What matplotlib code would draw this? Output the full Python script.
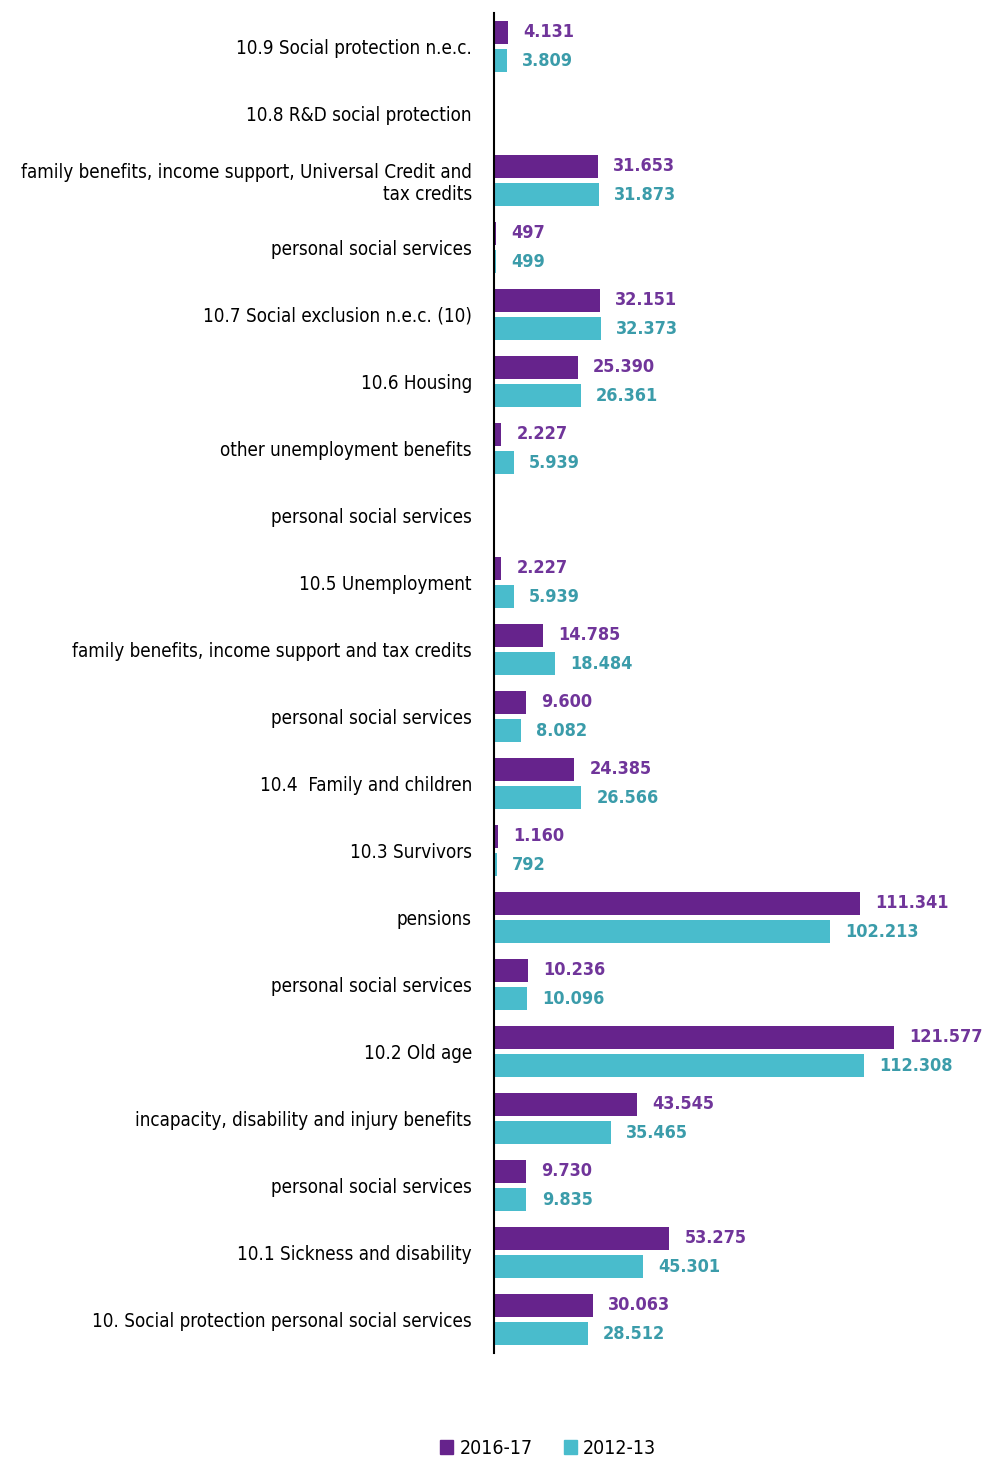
import matplotlib
matplotlib.use('Agg')
import matplotlib.pyplot as plt
import numpy as np
from matplotlib.patches import Patch

plt.rcParams['font.family'] = ['DejaVu Sans']
plt.rcParams['font.stretch'] = 'condensed'

# categories top to bottom, values in GBP million (None = no bar)
categories = [
    '10.9 Social protection n.e.c.',
    '10.8 R&D social protection',
    'family benefits, income support, Universal Credit and\ntax credits',
    'personal social services',
    '10.7 Social exclusion n.e.c. (10)',
    '10.6 Housing',
    'other unemployment benefits',
    'personal social services',
    '10.5 Unemployment',
    'family benefits, income support and tax credits',
    'personal social services',
    '10.4  Family and children',
    '10.3 Survivors',
    'pensions',
    'personal social services',
    '10.2 Old age',
    'incapacity, disability and injury benefits',
    'personal social services',
    '10.1 Sickness and disability',
    '10. Social protection personal social services',
]
v2016 = [4131, None, 31653, 497, 32151, 25390, 2227, None, 2227, 14785,
         9600, 24385, 1160, 111341, 10236, 121577, 43545, 9730, 53275, 30063]
v2012 = [3809, None, 31873, 499, 32373, 26361, 5939, None, 5939, 18484,
         8082, 26566, 792, 102213, 10096, 112308, 35465, 9835, 45301, 28512]
series_names = ['2016-17', '2012-13']

bar_cols = ['#66238c', '#49bccc']
txt_cols = ['#70359a', '#3b9caa']


def fmt(v):
    return '{:,}'.format(v).replace(',', '.')


fig = plt.figure(figsize=(9.82, 14.58), dpi=100)
ax = fig.add_axes([494 / 982, 1 - 1353 / 1458, 468 / 982, (1353 - 13) / 1458])

ypos = np.arange(len(categories))
h = 0.34
off = 0.21
for vals, d, bc, tc in [(v2016, -off, bar_cols[0], txt_cols[0]),
                        (v2012, off, bar_cols[1], txt_cols[1])]:
    for y, v in zip(ypos, vals):
        if v is None:
            continue
        ax.barh(y + d, v, height=h, color=bc)
        ax.annotate(fmt(v), (v, y + d), xytext=(11, 0), textcoords='offset points',
                    va='center', ha='left', fontsize=13, fontweight='bold', color=tc)

ax.set_ylim(len(categories) - 0.5, -0.5)
ax.set_xlim(0, 121577 * 468 / 400)
ax.set_yticks(ypos)
ax.set_yticklabels(categories, fontsize=13.5)
ax.tick_params(axis='y', length=0, pad=16)
ax.set_xticks([])
for s in ['top', 'right', 'bottom']:
    ax.spines[s].set_visible(False)
ax.spines['left'].set_linewidth(1.5)

handles = [Patch(color=bar_cols[0]), Patch(color=bar_cols[1])]
fig.legend(handles, series_names, loc='center', bbox_to_anchor=(548 / 982, 1 - 1448 / 1458),
           ncol=2, frameon=False, fontsize=14, handlelength=0.7, handleheight=0.7,
           handletextpad=0.3, columnspacing=1.6)

fig.savefig('out.png', dpi=100)
